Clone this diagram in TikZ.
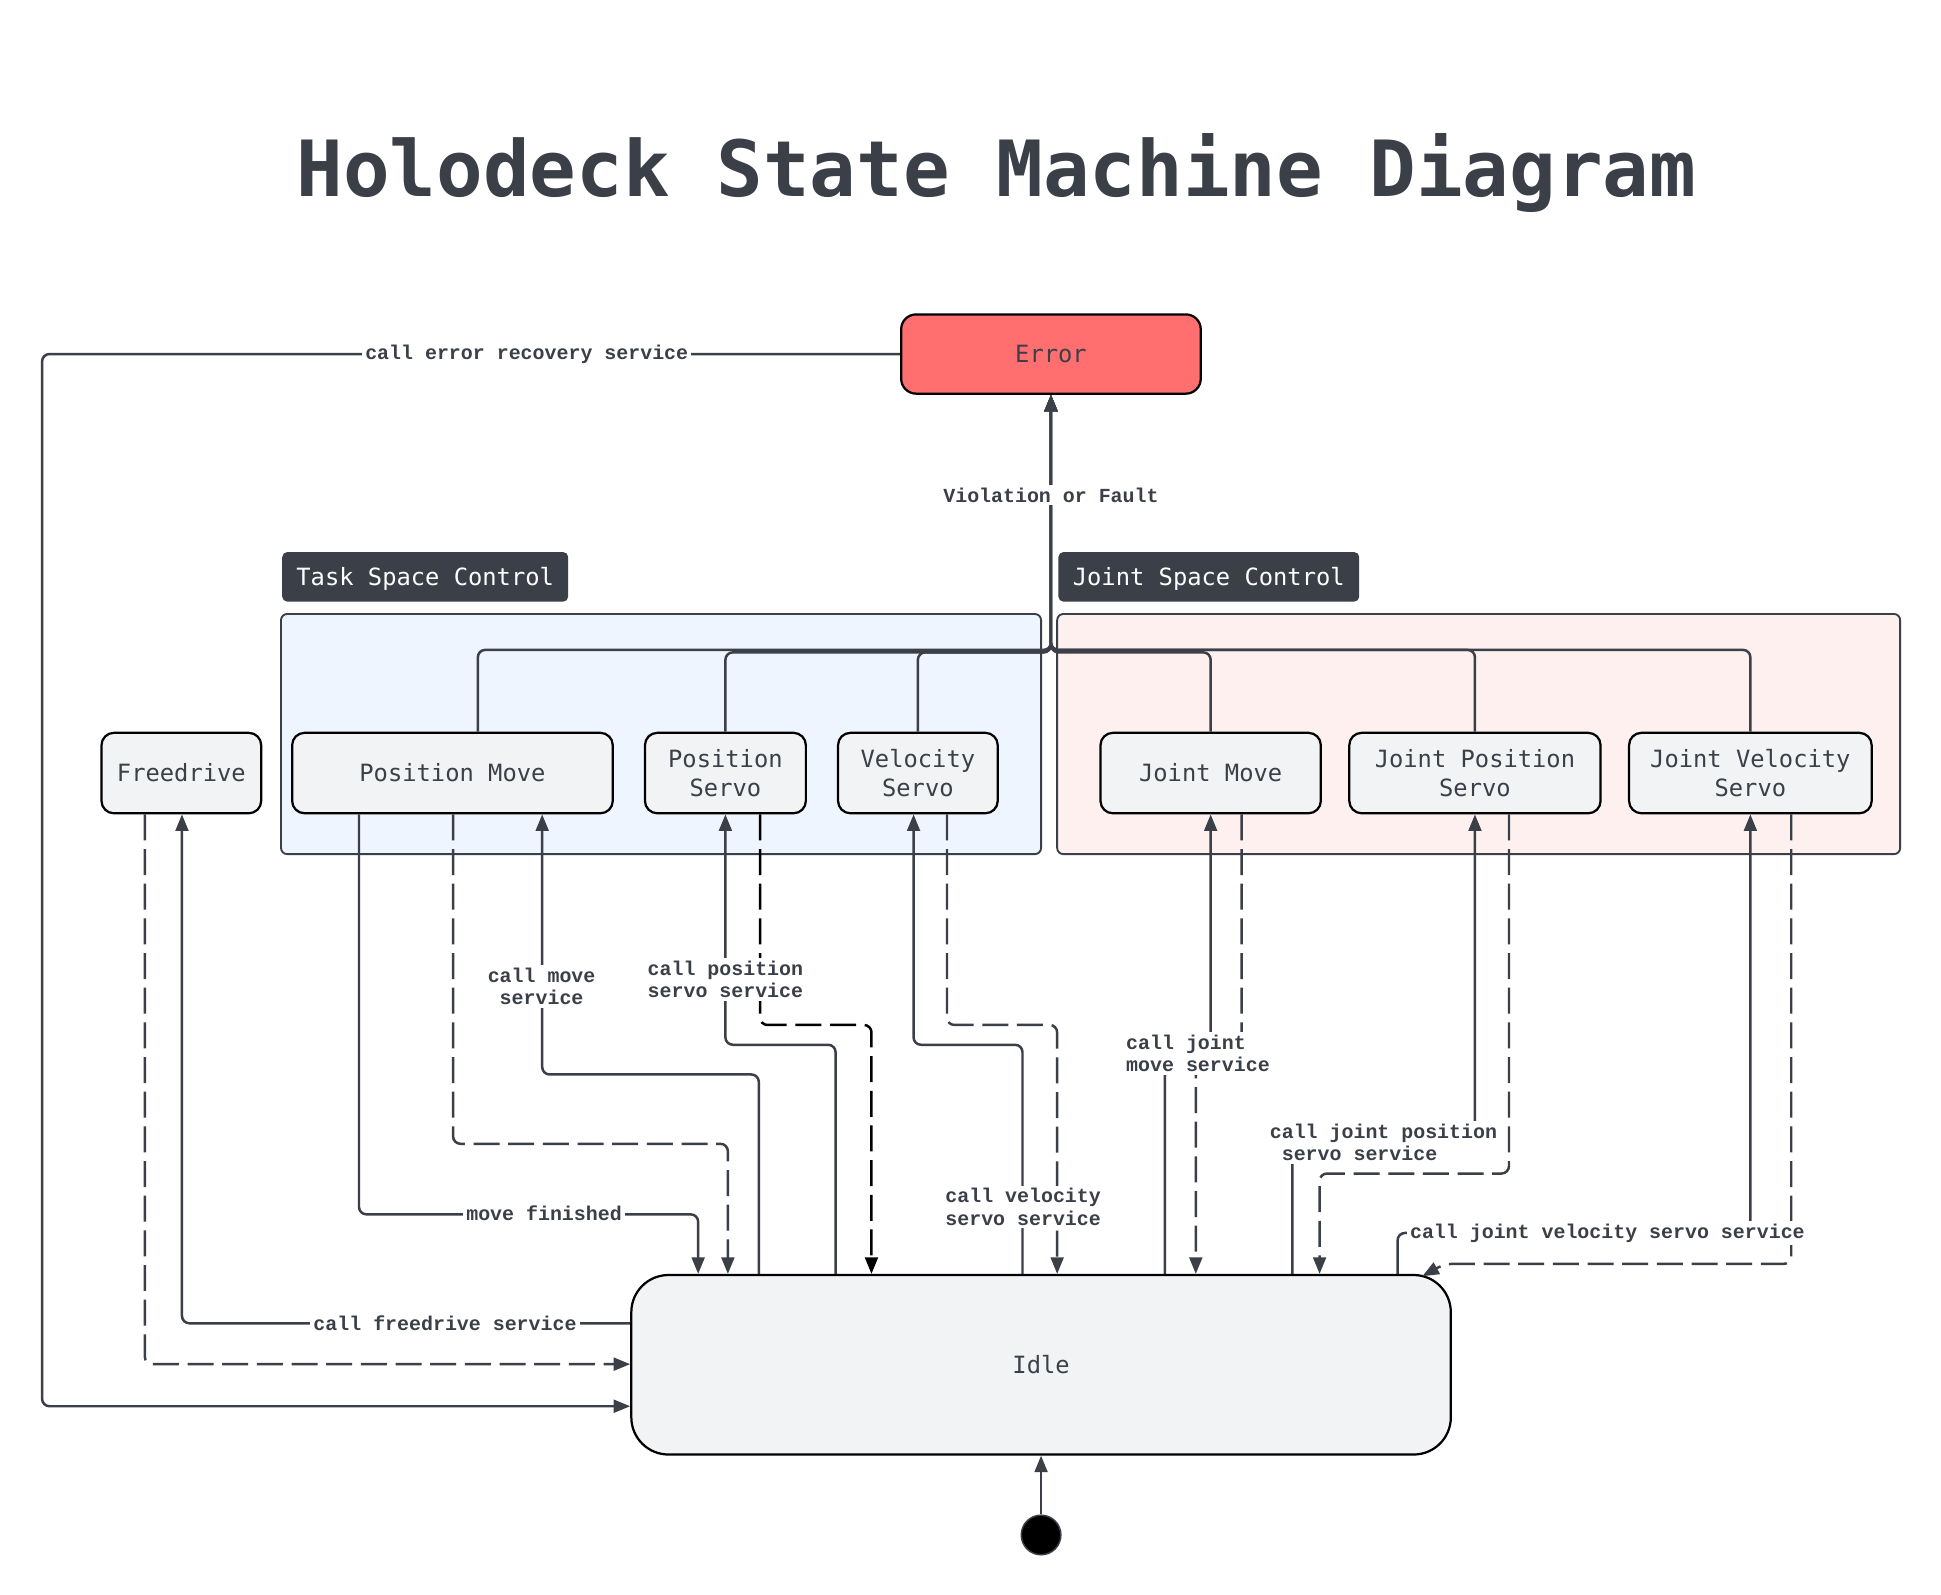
\documentclass[tikz,border=0pt]{standalone}
\usepackage{fontspec}
\setmainfont{DejaVu Sans Mono}
\newfontfamily\nodefont{DejaVu Sans Mono}
\newfontfamily\lblfont{Liberation Mono}
\usetikzlibrary{arrows.meta}
\definecolor{slate}{HTML}{3A3F48}
\definecolor{errred}{HTML}{FF6F6F}
\definecolor{taskbg}{HTML}{EEF5FE}
\definecolor{jointbg}{HTML}{FEF0EF}
\definecolor{nodebg}{HTML}{F2F3F5}
\begin{document}
\begin{tikzpicture}[x=0.5pt,y=-0.5pt,
  state/.style={draw=black, line width=0.9pt, fill=nodebg, rounded corners=5pt,
    font=\nodefont\fontsize{9.6}{11.5}\selectfont, text=slate, align=center, inner sep=0pt},
  container/.style={draw=slate, line width=0.75pt, rounded corners=2.5pt, inner sep=0pt},
  heading/.style={fill=slate, rounded corners=2pt, text=white, inner sep=0pt,
    text depth=0pt, font=\nodefont\fontsize{9.6}{11.5}\selectfont},
  conn/.style={draw=slate, line width=1pt, rounded corners=3pt},
  arr/.style={-{Triangle[length=6.7pt,width=5.2pt]}},
  dsh/.style={dash pattern=on 10.5pt off 3.5pt},
  lbl/.style={fill=white, inner sep=1.2pt, text=slate, align=center,
    font=\lblfont\bfseries\fontsize{8.05}{9}\selectfont}
]
\useasboundingbox (0,0) rectangle (1568,1288);
\fill[white] (0,0) rectangle (1568,1288);

% title
\node[font=\nodefont\bfseries\fontsize{31.3}{36}\selectfont, text=slate] (title) at (805,140) {Holodeck State Machine Diagram};

% containers and headings
\node[container, fill=taskbg, minimum width=307pt, minimum height=97pt] (task) at (534,593) {};
\node[container, fill=jointbg, minimum width=340.5pt, minimum height=97pt] (joint) at (1194.5,593) {};
\node[heading, minimum width=115.5pt, minimum height=20pt] (taskh) at (343.5,466) {Task Space Control};
\node[heading, minimum width=121.5pt, minimum height=20pt] (jointh) at (976.5,466) {Joint Space Control};

% states
\node[state, fill=errred, rounded corners=6pt, minimum width=121pt, minimum height=32pt] (err) at (849,286) {Error};
\node[state, minimum width=64.5pt, minimum height=32.5pt] (fd) at (146.5,624.5) {Freedrive};
\node[state, minimum width=129.5pt, minimum height=32.5pt] (pm) at (365.5,624.5) {Position Move};
\node[state, minimum width=65pt, minimum height=32.5pt] (ps) at (586,624.5) {Position\\Servo};
\node[state, minimum width=64.5pt, minimum height=32.5pt] (vs) at (741.5,624.5) {Velocity\\Servo};
\node[state, minimum width=89pt, minimum height=32.5pt] (jm) at (978,624.5) {Joint Move};
\node[state, minimum width=101.5pt, minimum height=32.5pt] (jp) at (1191.5,624.5) {Joint Position\\Servo};
\node[state, minimum width=98pt, minimum height=32.5pt] (jv) at (1414,624.5) {Joint Velocity\\Servo};
\node[state, rounded corners=15pt, minimum width=331pt, minimum height=72.5pt] (idle) at (841,1102.5) {Idle};
\node[circle, fill=black, draw=slate, line width=0.6pt, minimum size=16pt, inner sep=0pt] (start) at (841,1240) {};
\coordinate (idlecorner) at (1149,1031);

% bus to Error
\draw[conn,arr] (pm.north -| 386,0) -- (386,525) -- (849,525) -- (err.south);
\draw[conn,arr] (ps.north) -- (586,527) -- (849,527) -- (err.south);
\draw[conn,arr] (vs.north) -- (741.5,527) -- (849,527) -- (err.south);
\draw[conn,arr] (jm.north) -- (978,527) -- (849,527) -- (err.south);
\draw[conn,arr] (jp.north) -- (1191.5,525) -- (849,525) -- (err.south);
\draw[conn,arr] (jv.north) -- (1414,525) -- (849,525) -- (err.south);

% error recovery
\draw[conn,arr] (err.west) -- (34,286) -- (34,1136) -- (idle.west |- 0,1136);

% freedrive
\draw[conn,dsh,arr] (fd.south -| 117,0) -- (117,1102) -- (idle.west |- 0,1102);
\draw[conn,arr] (idle.west |- 0,1069) -- (147,1069) -- (fd.south -| 147,0);

% position move
\draw[conn,arr] (pm.south -| 290,0) -- (290,981) -- (564,981) -- (idle.north -| 564,0);
\draw[conn,dsh,arr] (pm.south -| 366,0) -- (366,924) -- (588,924) -- (idle.north -| 588,0);
\draw[conn,arr] (idle.north -| 613,0) -- (613,868) -- (438,868) -- (pm.south -| 438,0);

% position servo
\draw[conn,arr] (idle.north -| 675,0) -- (675,844) -- (586,844) -- (ps.south);
\draw[conn,dsh,arr,draw=black] (ps.south -| 614,0) -- (614,828) -- (704,828) -- (idle.north -| 704,0);

% velocity servo
\draw[conn,arr] (idle.north -| 826,0) -- (826,844) -- (738,844) -- (vs.south -| 738,0);
\draw[conn,dsh,arr] (vs.south -| 765,0) -- (765,828) -- (854,828) -- (idle.north -| 854,0);

% joint move
\draw[conn,arr] (idle.north -| 941,0) -- (941,850) -- (978,850) -- (jm.south);
\draw[conn,dsh,arr] (jm.south -| 1003,0) -- (1003,850) -- (966,850) -- (idle.north -| 966,0);

% joint position servo
\draw[conn,arr] (idle.north -| 1044,0) -- (1044,923) -- (1191.5,923) -- (jp.south);
\draw[conn,dsh,arr] (jp.south -| 1219,0) -- (1219,948) -- (1066,948) -- (idle.north -| 1066,0);

% joint velocity servo
\draw[conn,arr] (idle.north -| 1129,0) -- (1129,996) -- (1414,996) -- (jv.south);
\draw[conn,dsh,arr] (jv.south -| 1447,0) -- (1447,1021) -- (1167,1021) -- (idlecorner);

% initial
\draw[conn,arr] (start.north) -- (idle.south);

% labels
\node[lbl] (l1) at (425.5,286) {call error recovery service};
\node[lbl] (l2) at (849,400) {Violation or Fault};
\node[lbl] (l3) at (439.5,980) {move finished};
\node[lbl] (l4) at (359.5,1069) {call freedrive service};
\node[lbl] (l5) at (437.5,797) {call move\\service};
\node[lbl] (l6) at (586,791) {call position\\servo service};
\node[lbl] (l7) at (826.5,975) {call velocity\\servo service};
\node[lbl, anchor=west, align=left] (l8) at (907,851) {call joint\\move service};
\node[lbl, anchor=west, align=left] (l9) at (1023,923) {call joint position\\\hphantom{s}servo service};
\node[lbl] (l10) at (1298.5,996) {call joint velocity servo service};
\end{tikzpicture}
\end{document}
